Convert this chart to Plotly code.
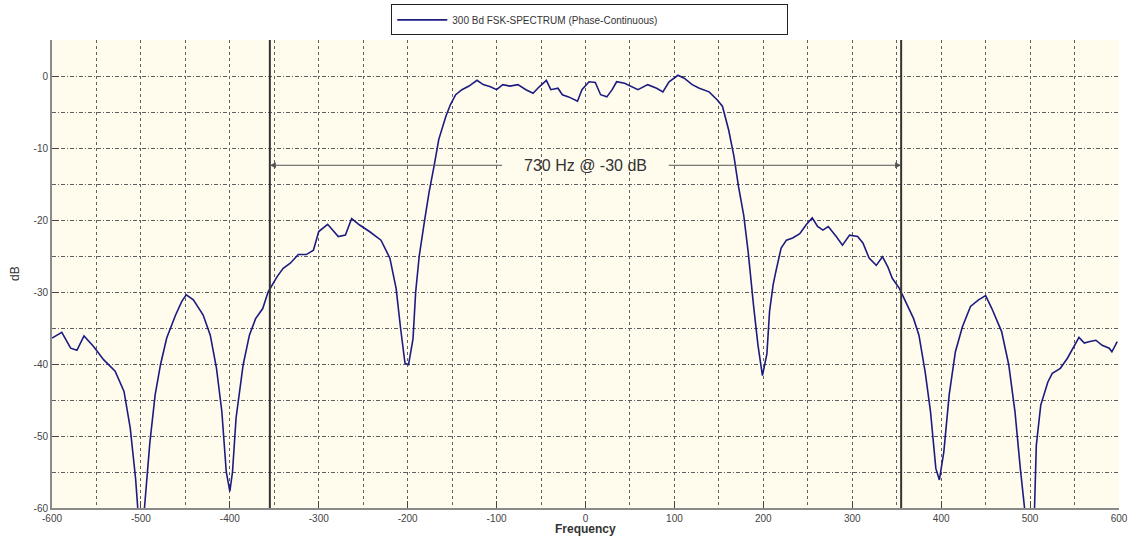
import plotly.graph_objects as go

# Spectrum (Hz, dB)
freq = [-600, -589, -579, -572, -564, -553, -542, -529, -519, -512, -506, -503, -500, -496,
        -490, -484, -478, -471, -461, -454, -449, -441, -430, -422, -415, -409, -404, -400,
        -397, -393, -385, -378, -371, -363, -357, -347, -340, -332, -323, -314, -306, -300,
        -290, -278, -270, -263, -254, -243, -230, -220, -213, -208, -203, -199, -194, -191,
        -187, -181, -176, -170, -165, -157, -152, -146, -139, -131, -122, -115, -107, -100,
        -93, -85, -76, -67, -59, -52, -44, -39, -31, -26, -19, -9, -4, 4, 11, 17, 24, 30,
        35, 44, 52, 59, 70, 80, 87, 94, 104, 111, 120, 128, 139, 148, 154, 161, 167, 172,
        178, 183, 189, 194, 199, 204, 207, 211, 214, 220, 226, 233, 241, 248, 255, 261, 267,
        273, 282, 289, 297, 306, 312, 319, 327, 334, 340, 345, 353, 360, 369, 375, 382, 388,
        394, 398, 403, 409, 416, 424, 433, 442, 450, 457, 468, 476, 483, 489, 493, 499, 505,
        507, 512, 520, 525, 534, 542, 550, 555, 561, 566, 574, 581, 589, 592, 598]
db = [-36.4, -35.6, -37.8, -38.1, -36.1, -37.6, -39.4, -41.0, -43.8, -48.9, -55.9, -60.0, -66.0, -60.0,
      -51.0, -44.3, -40.1, -36.4, -33.2, -31.3, -30.4, -31.1, -33.2, -36.0, -40.6, -46.6, -55.0, -57.7,
      -55.0, -47.5, -40.1, -36.0, -33.7, -32.3, -30.0, -27.9, -26.7, -26.0, -24.8, -24.8, -24.2, -21.6,
      -20.6, -22.3, -22.1, -19.8, -20.7, -21.6, -22.8, -25.3, -29.5, -35.0, -39.9, -40.1, -36.5, -30.0,
      -25.0, -20.1, -16.2, -12.3, -8.8, -5.6, -4.0, -2.6, -1.9, -1.4, -0.6, -1.2, -1.5, -1.9,
      -1.2, -1.4, -1.2, -1.9, -2.4, -1.5, -0.6, -1.9, -1.7, -2.6, -2.9, -3.5, -1.9, -0.8, -0.9, -2.6, -2.9, -1.9,
      -0.8, -1.0, -1.5, -1.9, -1.2, -1.7, -2.2, -0.8, 0.1, -0.3, -1.2, -1.7, -2.2, -3.3, -4.2, -7.5, -11.2, -15.3,
      -19.4, -24.5, -31.9, -37.4, -41.6, -38.6, -32.7, -29.0, -27.2, -23.9, -22.8, -22.5, -21.9, -20.7, -19.7, -20.9, -21.4,
      -20.9, -22.3, -23.5, -22.1, -22.3, -23.2, -25.3, -26.3, -25.1, -26.5, -28.1, -29.5, -31.3, -33.7, -36.0, -41.1, -46.6,
      -54.5, -56.1, -52.2, -44.3, -38.3, -34.8, -32.0, -31.1, -30.5, -32.3, -35.5, -40.1, -46.6, -54.5, -60.0, -66.0, -60.0,
      -51.3, -45.7, -42.5, -41.3, -40.6, -39.2, -37.4, -36.3, -37.1, -36.9, -36.7, -37.4, -37.8, -38.3, -36.9]

x_ticks = [-600, -500, -400, -300, -200, -100, 0, 100, 200, 300, 400, 500, 600]
y_ticks = [-60, -50, -40, -30, -20, -10, 0]

band_edges = [-355, 355]      # -30 dB bandwidth markers
band_level = -12.4            # height of the dimension arrow
band_label = "730 Hz @ -30 dB"
legend_name = "300 Bd FSK-SPECTRUM (Phase-Continuous)"
x_title = "Frequency"
y_title = "dB"

FONT = "Liberation Sans, Arial"

fig = go.Figure()
fig.add_trace(go.Scatter(x=freq, y=db, mode="lines", name=legend_name,
                         line=dict(color="#1c1c80", width=1.6), showlegend=True))

for e in band_edges:
    fig.add_shape(type="line", x0=e, x1=e, y0=-60, y1=5, xref="x", yref="y",
                  line=dict(color="#333333", width=2))

# dimension arrows
fig.add_annotation(x=band_edges[0], y=band_level, ax=-92, ay=band_level, xref="x", yref="y",
                   axref="x", ayref="y", showarrow=True, arrowhead=2, arrowsize=1.2,
                   arrowwidth=1, arrowcolor="#555555", text="")
fig.add_annotation(x=band_edges[1], y=band_level, ax=92, ay=band_level, xref="x", yref="y",
                   axref="x", ayref="y", showarrow=True, arrowhead=2, arrowsize=1.2,
                   arrowwidth=1, arrowcolor="#555555", text="")
fig.add_annotation(x=0, y=band_level, text=band_label, showarrow=False, xref="x", yref="y",
                   font=dict(family=FONT, size=16, color="#333333"))

# axis titles as annotations to control their placement
fig.add_annotation(x=0.5, y=0, xref="paper", yref="paper", yshift=-12, yanchor="top",
                   text="<b>" + x_title + "</b>", showarrow=False,
                   font=dict(family=FONT, size=12, color="#333333"))
fig.add_annotation(x=0, y=0.5, xref="paper", yref="paper", xshift=-37, xanchor="center",
                   text=y_title, textangle=-90, showarrow=False,
                   font=dict(family=FONT, size=12, color="#333333"))

grid_col = "#5f5f5f"
fig.update_xaxes(range=[-600, 600], tickvals=x_ticks, ticktext=[str(v) for v in x_ticks],
                 showgrid=True, gridcolor=grid_col, griddash="dot", gridwidth=1,
                 minor=dict(dtick=50, tick0=0, showgrid=True, gridcolor=grid_col,
                            griddash="dot", gridwidth=1, ticks=""),
                 ticks="inside", ticklen=7, tickcolor="#444444",
                 showline=True, linecolor="#8a8a8a", linewidth=2, mirror=False,
                 zeroline=False,
                 tickfont=dict(family=FONT, size=10, color="#444444"))
fig.update_yaxes(range=[-60, 5], tickvals=y_ticks, ticktext=[str(v) for v in y_ticks],
                 showgrid=True, gridcolor=grid_col, griddash="4px,2px,1px,2px", gridwidth=1,
                 minor=dict(dtick=5, tick0=0, showgrid=True, gridcolor=grid_col,
                            griddash="4px,2px,1px,2px", gridwidth=1, ticks=""),
                 ticks="inside", ticklen=7, tickcolor="#444444",
                 showline=True, linecolor="#8a8a8a", linewidth=2, mirror=False,
                 zeroline=False,
                 tickfont=dict(family=FONT, size=10, color="#444444"))

fig.update_layout(
    width=1131, height=536,
    margin=dict(l=52, r=12, t=40, b=28, autoexpand=False),
    paper_bgcolor="white", plot_bgcolor="#fffcee",
    legend=dict(x=0.504, y=1.043, xanchor="center", yanchor="middle",
                orientation="h",
                bgcolor="white", bordercolor="#222222", borderwidth=1,
                font=dict(family=FONT, size=10, color="#333333"),
                itemwidth=50, entrywidth=330, tracegroupgap=0),
    showlegend=True,
)

fig.write_html("out.html", config={"displayModeBar": False},
               post_script="document.body.style.margin='0';document.body.style.overflow='hidden';")
